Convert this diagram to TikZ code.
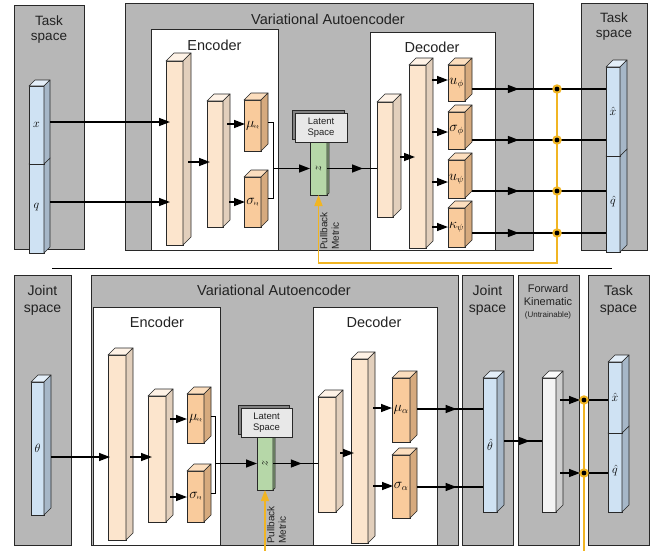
\documentclass[tikz,border=0pt]{standalone}
\usepackage{fontspec}
\setmainfont{Liberation Sans}
\usetikzlibrary{arrows.meta,calc,decorations.markings,shadows}
\definecolor{panel}{RGB}{183,183,183}
\definecolor{edge}{RGB}{40,40,40}
\definecolor{txt}{RGB}{34,34,34}
\definecolor{peach}{RGB}{252,229,205}
\definecolor{peachside}{RGB}{226,207,188}
\definecolor{peachtop}{RGB}{254,242,230}
\definecolor{orng}{RGB}{249,203,156}
\definecolor{orngside}{RGB}{214,170,126}
\definecolor{orngtop}{RGB}{252,222,190}
\definecolor{lblue}{RGB}{207,226,243}
\definecolor{lblueside}{RGB}{166,183,200}
\definecolor{lbluetop}{RGB}{228,239,249}
\definecolor{lgreen}{RGB}{182,215,168}
\definecolor{lgreenside}{RGB}{140,170,128}
\definecolor{lgreentop}{RGB}{210,232,200}
\definecolor{fkc}{RGB}{243,243,243}
\definecolor{fkcside}{RGB}{205,205,205}
\definecolor{fkctop}{RGB}{250,250,250}
\definecolor{lsfill}{RGB}{232,232,232}
\definecolor{lsdark}{RGB}{130,130,130}
\definecolor{ylw}{RGB}{241,181,35}
\tikzset{
  panelbox/.style={draw=edge, line width=0.8pt, fill=panel, inner sep=0pt, outer sep=0pt},
  whitebox/.style={draw=edge, line width=0.8pt, fill=white, inner sep=0pt, outer sep=0pt},
  box3d/.style={draw=edge, line width=0.6pt, inner sep=0pt, outer sep=0pt, font=\fontsize{11.5}{13}\selectfont},
  face/.style={draw=edge, line width=0.6pt, line join=round},
  ttl/.style={inner sep=0pt, text=txt, align=center},
  arr/.style={line width=1.4pt, -{Triangle[length=11pt,width=8pt]}},
  plainline/.style={line width=1.4pt},
  thinline/.style={line width=1pt},
  midarr/.style={line width=1.4pt, postaction={decorate}, decoration={markings, mark=at position #1 with {\arrow{Triangle[length=11pt,width=8pt]}}}},
  midarr/.default=0.5,
  yline/.style={draw=ylw, line width=1.6pt},
  yarr/.style={draw=ylw, line width=1.6pt, -{Triangle[length=11pt,width=8pt]}},
  ydot/.style={circle, fill=ylw, minimum size=9.5pt, inner sep=0pt, path picture={\fill[black] (path picture bounding box.center) circle (2.4pt);}},
  latbox/.style={draw=edge, line width=0.6pt, fill=lsfill, minimum width=52pt, minimum height=29pt, inner sep=0pt, align=center, text=txt,
    font=\fontsize{9.5}{11}\selectfont,
    general shadow={fill=lsdark, draw=edge, line width=0.6pt, shadow xshift=-2.5pt, shadow yshift=2.5pt}},
  pbtext/.style={rotate=90, anchor=north west, inner sep=0pt, align=left, text=txt, font=\fontsize{10}{11.5}\selectfont},
}
% label size for orange boxes and the latent z
\newcommand\olab[1]{{\fontsize{13.5}{15}\selectfont$#1$}}
\newcommand\zlab{{\fontsize{12.5}{14}\selectfont\rotatebox{90}{$z$}}}
\newcommand\rz{\rotatebox{90}{$\scriptstyle z$}}
% cuboid: [label]{name}{x1}{y1}{x2}{y2}{depth}{scheme}
\newcommand\cub[8][]{%
  \node[box3d, fill=#8, minimum width={(#5)-(#3)}, minimum height={(#6)-(#4)}, anchor=north west] (#2) at (#3,#4) {#1};
  \filldraw[face, fill=#8top] (#2.north west) -- ++(#7,-#7) -- ($(#2.north east)+(#7,-#7)$) -- (#2.north east) -- cycle;
  \filldraw[face, fill=#8side] (#2.north east) -- ++(#7,-#7) -- ($(#2.south east)+(#7,-#7)$) -- (#2.south east) -- cycle;
}
\newcommand\pnl[6]{\node[#6, minimum width={(#4)-(#2)}, minimum height={(#5)-(#3)}, anchor=north west] (#1) at (#2,#3) {};}
\newcommand\harr[6]{\draw[#1] ($(#2.east |- 0,#6)+(#3,0)$) -- ($(#4.west |- 0,#6)+(#5,0)$);}
\begin{document}
\begin{tikzpicture}[x=1pt,y=-1pt]
\fill[white] (0,0) rectangle (665,550);
\useasboundingbox (0,0) rectangle (665,550);

%================ TOP =================
\pnl{tsL}{14}{5}{84}{249}{panelbox}
\pnl{vaeT}{125}{3}{533}{250}{panelbox}
\pnl{encT}{151}{29}{278}{250}{whitebox}
\pnl{decT}{370}{32}{495}{250}{whitebox}
\pnl{tsR}{581}{3}{647}{250}{panelbox}

\node[ttl, anchor=north, font=\fontsize{13.5}{15}\selectfont] (tsLt) at (49,15.5) {Task\\space};
\node[ttl, anchor=base, font=\fontsize{14.5}{17}\selectfont] (vaeTt) at (328,24) {Variational Autoencoder};
\node[ttl, anchor=base, font=\fontsize{14.5}{17}\selectfont] (encTt) at (214.5,50) {Encoder};
\node[ttl, anchor=base, font=\fontsize{14.5}{17}\selectfont] (decTt) at (432,52.5) {Decoder};
\node[ttl, anchor=north, font=\fontsize{13.5}{15.5}\selectfont] (tsRt) at (614,12.3) {Task\\space};

\cub[\raisebox{6pt}{$q$}]{tq}{29}{164}{44}{253}{6}{lblue}
\cub[$x$]{tx}{29}{86}{44}{164}{6}{lblue}

\cub{E1}{166}{61}{183}{245}{8}{peach}
\cub{E2}{207}{101}{223}{227}{7}{peach}
\cub[\olab{\mu_{\rz}}]{Emu}{244}{100}{261}{151}{7}{orng}
\cub[\olab{\sigma_{\rz}}]{Esig}{244}{177}{261}{227}{7}{orng}

\cub[\zlab]{zT}{310}{142}{327}{195}{2}{lgreen}
\node[latbox] (lsT) at (321,127.5) {Latent\\Space};

\cub{D1}{377}{102}{393}{217}{8}{peach}
\cub{D2}{409}{65}{426}{248}{7}{peach}
\cub[\olab{u_{\phi}}]{O1}{448}{65}{465}{101}{7}{orng}
\cub[\olab{\sigma_{\phi}}]{O2}{448}{112}{465}{149}{7}{orng}
\cub[\olab{u_{\psi}}]{O3}{448}{160}{465}{198}{7}{orng}
\cub[\olab{\kappa_{\psi}}]{O4}{448}{208}{465}{247}{7}{orng}

\cub[\raisebox{8pt}{$\hat{q}$}]{Tq}{606}{156}{620}{252}{7}{lblue}
\cub[$\hat{x}$]{Tx}{606}{67}{620}{156}{7}{lblue}

\node[pbtext] (pbT) at (320,250) {Pullback\\Metric};

% arrows top
\harr{arr}{tx}{6}{E1}{4}{122}
\harr{arr}{tq}{6}{E1}{4}{202}
\harr{arr}{E1}{5}{E2}{3}{162}
\harr{arr}{E2}{4}{Emu}{1}{124}
\harr{arr}{E2}{6}{Esig}{1}{202}
\draw[thinline] ($(Emu.east |- 0,122)+(7,0)$) -| ($(Esig.east |- 0,198)+(12,0)$) -- ($(Esig.east |- 0,198)+(7,0)$);
\coordinate (jT) at (273,168.5);
\draw[arr] (jT) -- (jT -| zT.west);
\draw[midarr=0.72] (zT.east) -- (zT.east -| D1.west);
\harr{arr}{D1}{7}{D2}{6}{157}
\harr{arr}{D2}{6}{O1}{0}{80}
\harr{arr}{D2}{6}{O2}{0}{132}
\harr{arr}{D2}{6}{O3}{0}{182}
\harr{arr}{D2}{6}{O4}{0}{227}
\harr{midarr=0.35}{O1}{7}{Tx}{0}{89}
\harr{midarr=0.35}{O2}{7}{Tx}{0}{140}
\harr{midarr=0.35}{O3}{7}{Tq}{0}{191}
\harr{midarr=0.35}{O4}{7}{Tq}{0}{233}

\coordinate (c1) at (557,89);
\coordinate (c2) at (557,140);
\coordinate (c3) at (557,191);
\coordinate (c4) at (557,233);
\draw[yarr] (c1) |- (zT.south |- 0,263) -- (zT.south);
\node[ydot] (d1) at (c1) {};
\node[ydot] (d2) at (c2) {};
\node[ydot] (d3) at (c3) {};
\node[ydot] (d4) at (c4) {};

% separator
\draw[line width=1pt] (52,268) -- (612,268);

%================ BOTTOM =================
\pnl{jsL}{14}{275}{71}{545}{panelbox}
\pnl{vaeB}{91}{275}{458}{545}{panelbox}
\pnl{encB}{93}{307}{220}{545}{whitebox}
\pnl{decB}{313}{307}{437}{545}{whitebox}
\pnl{jsR}{462}{275}{513}{545}{panelbox}
\pnl{fkP}{518}{275}{579}{545}{panelbox}
\pnl{tsB}{588}{275}{649}{545}{panelbox}

\node[ttl, anchor=north, font=\fontsize{14}{16.5}\selectfont] (jsLt) at (42.5,285.6) {Joint\\space};
\node[ttl, anchor=base, font=\fontsize{14.5}{17}\selectfont] (vaeBt) at (274,295.5) {Variational Autoencoder};
\node[ttl, anchor=base, font=\fontsize{14.5}{17}\selectfont] (encBt) at (157,327.7) {Encoder};
\node[ttl, anchor=base, font=\fontsize{14.5}{17}\selectfont] (decBt) at (374,327.7) {Decoder};
\node[ttl, anchor=north, font=\fontsize{14}{16.5}\selectfont] (jsRt) at (487.5,285.6) {Joint\\space};
\node[ttl, anchor=north, font=\fontsize{11}{12.5}\selectfont] (fkt) at (548,284.4) {Forward\\Kinematic\\{\fontsize{8}{12.5}\selectfont(Untrainable)}};
\node[ttl, anchor=north, font=\fontsize{14}{16.5}\selectfont] (tsBt) at (618.5,285.6) {Task\\space};

\cub[$\theta$]{th}{31}{382}{44}{515}{7}{lblue}
\cub{E1b}{108}{355}{126}{540}{7}{peach}
\cub{E2b}{148}{396}{166}{522}{7}{peach}
\cub[\olab{\mu_{\rz}}]{mub}{187}{394}{204}{443}{7}{orng}
\cub[\olab{\sigma_{\rz}}]{sigb}{187}{471}{204}{522}{7}{orng}
\cub[\zlab]{zB}{257}{437}{273}{490}{2}{lgreen}
\node[latbox, minimum width=51pt] (lsB) at (266.5,422.5) {Latent\\Space};
\cub{D1b}{318}{397}{336}{512}{7}{peach}
\cub{D2b}{351}{359}{368}{543}{7}{peach}
\cub[\olab{\mu_{\alpha}}]{mua}{392}{378}{410}{442}{7}{orng}
\cub[\olab{\sigma_{\alpha}}]{siga}{392}{455}{410}{518}{7}{orng}
\cub[$\hat{\theta}$]{thh}{483}{378}{497}{512}{7}{lblue}
\cub{fk}{542}{378}{556}{512}{7}{fkc}
\cub[\raisebox{7pt}{$\hat{q}$}]{Tqb}{608}{433}{622}{512}{7}{lblue}
\cub[$\hat{x}$]{Txb}{608}{362}{622}{433}{7}{lblue}

\node[pbtext] (pbB) at (267,544) {Pullback\\Metric};

% arrows bottom
\harr{arr}{th}{7}{E1b}{2}{457}
\harr{arr}{E1b}{4}{E2b}{4}{457}
\harr{arr}{E2b}{4}{mub}{0}{419}
\harr{arr}{E2b}{4}{sigb}{0}{497}
\draw[thinline] ($(mub.east |- 0,416)+(7,0)$) -| ($(sigb.east |- 0,493)+(11,0)$) -- ($(sigb.east |- 0,493)+(7,0)$);
\coordinate (jB) at (215,463.5);
\draw[arr] (jB) -- (jB -| zB.west);
\draw[midarr=0.64] (zB.east) -- (zB.east -| D1b.west);
\harr{arr}{D1b}{4}{D2b}{3}{453}
\harr{arr}{D2b}{5}{mua}{0}{408}
\harr{arr}{D2b}{5}{siga}{1}{486}
\harr{midarr=0.6}{mua}{7}{thh}{0}{409}
\harr{midarr=0.6}{siga}{7}{thh}{0}{487}
\harr{midarr=0.68}{thh}{7}{fk}{0}{441}

\coordinate (cb1) at (584,400);
\coordinate (cb2) at (584,473);
\draw[arr] ($(fk.east |- cb1)+(4,0)$) -- ($(cb1)+(-4,0)$);
\draw[arr] ($(fk.east |- cb2)+(4,0)$) -- ($(cb2)+(-4,0)$);
\draw[plainline] (cb1) -- (cb1 -| Txb.west);
\draw[plainline] (cb2) -- (cb2 -| Tqb.west);
\coordinate (yb1) at (584,551);
\draw[yline] (cb1) -- (yb1);
\coordinate (yb2) at (265,551);
\draw[yarr] (yb2) -- (zB.south);
\node[ydot] (e1) at (cb1) {};
\node[ydot] (e2) at (cb2) {};
\end{tikzpicture}
\end{document}
